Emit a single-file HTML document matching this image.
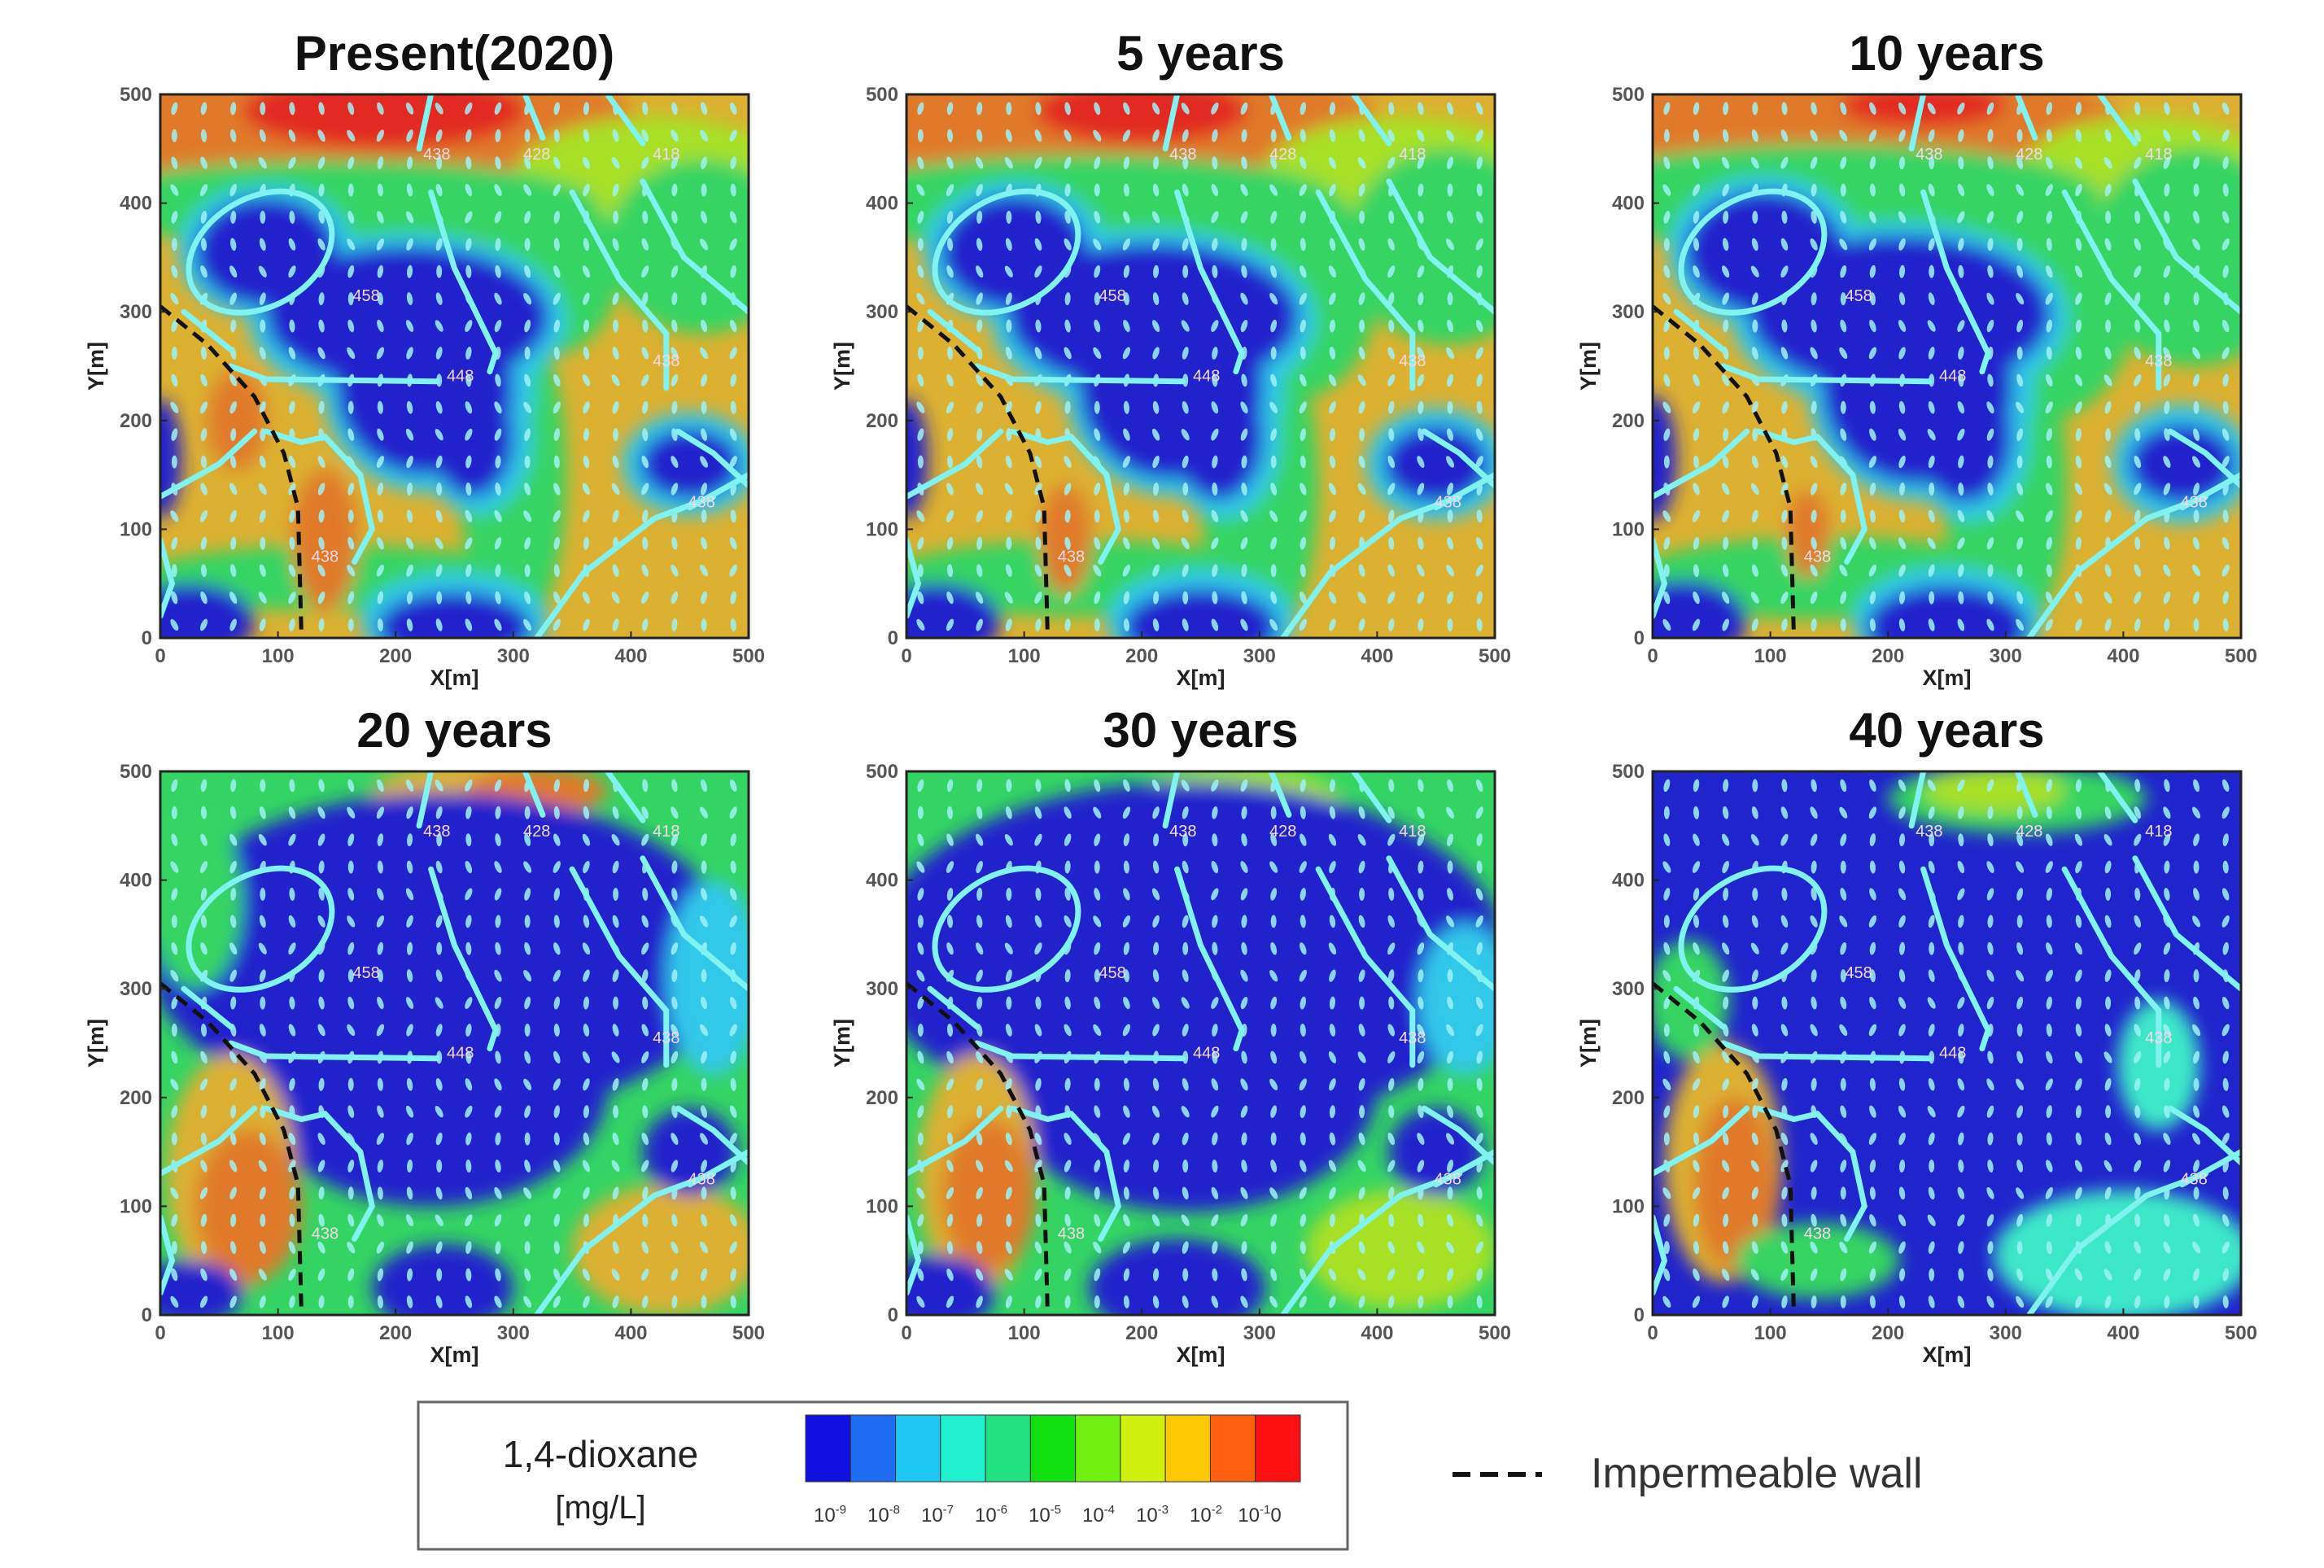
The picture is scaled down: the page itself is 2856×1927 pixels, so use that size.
<!DOCTYPE html>
<html><head><meta charset="utf-8">
<style>
html,body{margin:0;padding:0;background:#fff;}
svg{display:block;font-family:"Liberation Sans",sans-serif;}
</style></head>
<body>
<svg id="fig" width="2856" height="1927" viewBox="0 0 2856 1927" xmlns="http://www.w3.org/2000/svg">
<defs>
<filter id="blur" x="-20%" y="-20%" width="140%" height="140%"><feGaussianBlur stdDeviation="11"/></filter>
</defs>
<g id="panels"></g>
<g id="legend"></g>
</svg>
<script>
const NS="http://www.w3.org/2000/svg";
const panelTitles=["Present(2020)","5 years","10 years","20 years","30 years","40 years"];
const xTicks=[0,100,200,300,400,500];
const yTicks=[0,100,200,300,400,500];
const C={db:"#2024cc",bl:"#2a6cf0",cy:"#30c8ea",tq:"#3ee8c8",gr:"#34d464",lg:"#50e030",li:"#a8e028",ye:"#d8dc28",go:"#dcb030",or:"#e07a2a",rd:"#e22a22"};
const baseColors=["go","go","go","gr","gr","db"];
// Concentration zones: [x, y, rx, ry, colourKey] in metres
const zones0=[[150,470,260,70,"or"],[190,485,120,35,"rd"],[420,420,120,60,"li"],[460,360,80,80,"gr"],[150,400,220,40,"gr"],[330,340,60,80,"gr"],
[300,150,45,150,"gr"],[150,55,170,30,"gr"],
[90,355,75,62,"cy"],[210,292,135,80,"cy"],[228,228,90,95,"cy"],[268,182,48,68,"cy"],
[90,355,60,50,"db"],[210,295,120,65,"db"],[225,230,75,80,"db"],[265,185,35,55,"db"],
[450,160,58,48,"cy"],[450,160,42,32,"db"],[250,15,80,45,"cy"],[250,10,65,32,"db"],[25,15,55,35,"db"],[0,165,18,55,"db"],
[140,90,28,65,"or"],[65,200,25,45,"or"]];
const zones1=[[150,470,260,65,"or"],[200,485,90,30,"rd"],[420,420,120,60,"li"],[460,360,85,90,"gr"],[150,400,220,45,"gr"],[330,320,70,100,"gr"],
[300,140,50,150,"gr"],[150,55,170,35,"gr"],
[92,355,78,65,"cy"],[210,292,138,84,"cy"],[228,228,93,98,"cy"],[268,182,50,72,"cy"],
[92,355,62,52,"db"],[210,295,123,68,"db"],[225,230,78,84,"db"],[265,185,38,58,"db"],
[450,160,60,52,"cy"],[450,160,44,35,"db"],[250,15,80,48,"cy"],[250,10,65,35,"db"],[25,15,55,35,"db"],[0,165,18,55,"db"],
[135,90,22,50,"or"]];
const zones2=[[180,475,220,55,"or"],[230,490,70,20,"rd"],[420,425,110,55,"li"],[460,350,90,100,"gr"],[150,405,230,50,"gr"],[330,310,80,110,"gr"],
[300,140,52,150,"gr"],[150,55,170,38,"gr"],
[95,355,82,70,"cy"],[210,295,143,88,"cy"],[228,228,96,102,"cy"],[268,182,52,74,"cy"],
[95,355,67,56,"db"],[210,298,128,72,"db"],[225,230,81,88,"db"],[265,185,40,60,"db"],
[450,160,60,55,"cy"],[450,160,45,36,"db"],[250,15,80,50,"cy"],[250,10,68,38,"db"],[25,15,55,38,"db"],[0,165,20,58,"db"],
[132,95,18,40,"or"]];
const zones3=[[270,478,90,32,"go"],[320,482,60,22,"or"],[240,330,250,150,"db"],[230,210,150,110,"db"],[60,130,55,110,"go"],[75,100,45,70,"or"],
[430,60,80,60,"go"],[450,150,40,40,"db"],[240,25,60,40,"db"],[25,20,45,30,"db"],[470,310,40,90,"cy"],[30,380,40,80,"gr"]];
const zones4=[[280,472,90,32,"li"],[240,330,270,160,"db"],[240,210,160,115,"db"],[60,130,50,110,"go"],[70,110,40,70,"or"],
[420,60,80,55,"li"],[450,150,40,40,"db"],[230,25,75,45,"db"],[25,20,50,35,"db"],[475,290,40,70,"cy"]];
const zones5=[[310,475,110,32,"gr"],[290,482,60,20,"li"],[60,140,50,110,"go"],[70,120,35,80,"or"],[140,50,70,35,"gr"],
[400,55,110,60,"tq"],[430,230,35,60,"tq"],[30,290,35,55,"gr"]];
const zoneSets=[zones0,zones1,zones2,zones3,zones4,zones5];
const headLoop=[85,355,65,50];
const headLines=[[[60,250],[90,238],[235,236]],[[230,410],[250,340],[285,262],[280,245]],[[220,450],[230,500]],[[325,460],[310,500]],
[[410,455],[380,500]],[[410,420],[445,350],[500,300]],[[350,410],[390,330],[430,280],[430,230]],[[440,190],[470,170],[500,140]],
[[450,120],[500,150]],[[320,0],[360,60],[420,110],[470,130]],[[0,130],[50,160],[80,190]],[[90,190],[120,180],[140,185],[170,150],[180,100],[165,70]],
[[0,90],[10,50],[0,20]],[[20,300],[60,265]]];
const wallLine=[[0,305],[40,270],[80,222],[105,170],[117,120],[120,0]];
const headLabels=[[175,310,"458"],[255,236,"448"],[235,440,"438"],[320,440,"428"],[430,440,"418"],[430,250,"438"],[460,120,"438"],[140,70,"438"]];

const panelLeft=[197,1114,2031], rowTop=[116,948], PW=723, PH=668;
const root=document.getElementById('panels');
function el(tag,attrs,parent){const e=document.createElementNS(NS,tag);for(const k in attrs)e.setAttribute(k,attrs[k]);(parent||root).appendChild(e);return e;}

panelTitles.forEach((title,i)=>{
  const L=panelLeft[i%3], T=rowTop[Math.floor(i/3)];
  const sx=v=>L+v/500*PW, sy=v=>T+PH-v/500*PH, sr=v=>v/500*PW, sry=v=>v/500*PH;
  const g=el('g',{});
  
  
  const cp=el('clipPath',{id:'cp'+i},g);
  el('rect',{x:L,y:T,width:PW,height:PH},cp);
  const field=el('g',{'clip-path':'url(#cp'+i+')'},g);
  
  
  el('rect',{x:L,y:T,width:PW,height:PH,fill:C[baseColors[i]]},field);
  const bl=el('g',{filter:'url(#blur)'},field);
  zoneSets[i].forEach(z=>{
    const e=el('ellipse',{cx:sx(z[0]),cy:sy(z[1]),rx:sr(z[2]),ry:sry(z[3]),fill:C[z[4]]},bl);
    
    
  });
  const ar=el('g',{fill:'#9ff2f6',opacity:'0.85'},field);
  for(let xv=12;xv<500;xv+=25)for(let yv=12;yv<500;yv+=25){
    const ang=((xv*7+yv*3)%60)-30;
    el('ellipse',{cx:sx(xv),cy:sy(yv),rx:3.5,ry:8,transform:`rotate(${ang} ${sx(xv)} ${sy(yv)})`},ar);
  }
  const hc=el('g',{fill:'none',stroke:'#80f2f0','stroke-width':7,'stroke-linecap':'round'},field);
  
  
  el('ellipse',{cx:sx(headLoop[0]),cy:sy(headLoop[1]),rx:sr(headLoop[2]),ry:sry(headLoop[3]),transform:`rotate(-30 ${sx(headLoop[0])} ${sy(headLoop[1])})`},hc);
  headLines.forEach(p=>el('polyline',{points:p.map(q=>sx(q[0])+','+sy(q[1])).join(' ')},hc));
  headLabels.forEach(h=>{const t=el('text',{x:sx(h[0]),y:sy(h[1]),fill:'#f4d8e8','font-size':20,'text-anchor':'middle'},field);t.textContent=h[2];});
  const w=el('polyline',{points:wallLine.map(q=>sx(q[0])+','+sy(q[1])).join(' '),fill:'none',stroke:'#111','stroke-width':5,'stroke-dasharray':'16 10'},field);
  
  
  el('rect',{x:L,y:T,width:PW,height:PH,fill:'none',stroke:'#222','stroke-width':3},g);
  xTicks.forEach(v=>{
    el('line',{x1:sx(v),x2:sx(v),y1:T+PH,y2:T+PH-8,stroke:'#222','stroke-width':2},g);
    const t=el('text',{x:sx(v),y:T+PH+30,'font-size':24,'font-weight':'bold',fill:'#555','text-anchor':'middle'},g);t.textContent=v;
  });
  yTicks.forEach(v=>{
    el('line',{x1:L,x2:L+8,y1:sy(v),y2:sy(v),stroke:'#222','stroke-width':2},g);
    const t=el('text',{x:L-10,y:sy(v)+8,'font-size':24,'font-weight':'bold',fill:'#555','text-anchor':'end'},g);t.textContent=v;
  });
  const xt=el('text',{x:L+PW/2,y:T+PH+58,'font-size':27,'font-weight':'bold',fill:'#222','text-anchor':'middle'},g);xt.textContent='X[m]';
  
  const yt=el('text',{x:L-70,y:T+PH/2,'font-size':27,'font-weight':'bold',fill:'#222','text-anchor':'middle',transform:`rotate(-90 ${L-70} ${T+PH/2})`},g);yt.textContent='Y[m]';
  
  const tt=el('text',{x:L+PW/2,y:T-30,'font-size':60,'font-weight':'bold',fill:'#111','text-anchor':'middle'},g);tt.textContent=title;
  
});

const legColors=["#1010e0","#1e6cf0","#1ec8f0","#20f0d0","#20e080","#10e010","#70f010","#d0f010","#ffc800","#ff6010","#ff1010"];
const legExp=["-9","-8","-7","-6","-5","-4","-3","-2","-1"];
const lg=document.getElementById('legend');
el('rect',{x:514,y:1723,width:1142,height:181,fill:'#fff',stroke:'#666','stroke-width':3},lg);
const t1=el('text',{x:738,y:1803,'font-size':46,fill:'#222','text-anchor':'middle'},lg);t1.textContent='1,4-dioxane';
const t2=el('text',{x:738,y:1866,'font-size':40,fill:'#222','text-anchor':'middle'},lg);t2.textContent='[mg/L]';
const cbx=990,cbw=608,cw=cbw/legColors.length;
legColors.forEach((c,i)=>{el('rect',{x:cbx+i*cw,y:1739,width:cw,height:82,fill:c,stroke:'#333','stroke-width':1},lg);});
legExp.forEach((e,i)=>{
  const x=1020+i*66;
  const t=el('text',{x:x,y:1870,'font-size':24,fill:'#333','text-anchor':'middle'},lg);
  t.textContent='10';
  const s=el('tspan',{'font-size':15,dy:-10},t);s.textContent=e;
  if(i==legExp.length-1){const z=el('tspan',{'font-size':24,dy:10},t);z.textContent='0';}
});
el('line',{x1:1785,x2:1895,y1:1812,y2:1812,stroke:'#111','stroke-width':6,'stroke-dasharray':'22 12'},lg);
const t3=el('text',{x:1955,y:1828,'font-size':52,fill:'#333'},lg);t3.textContent='Impermeable wall';
</script>
</body></html>
